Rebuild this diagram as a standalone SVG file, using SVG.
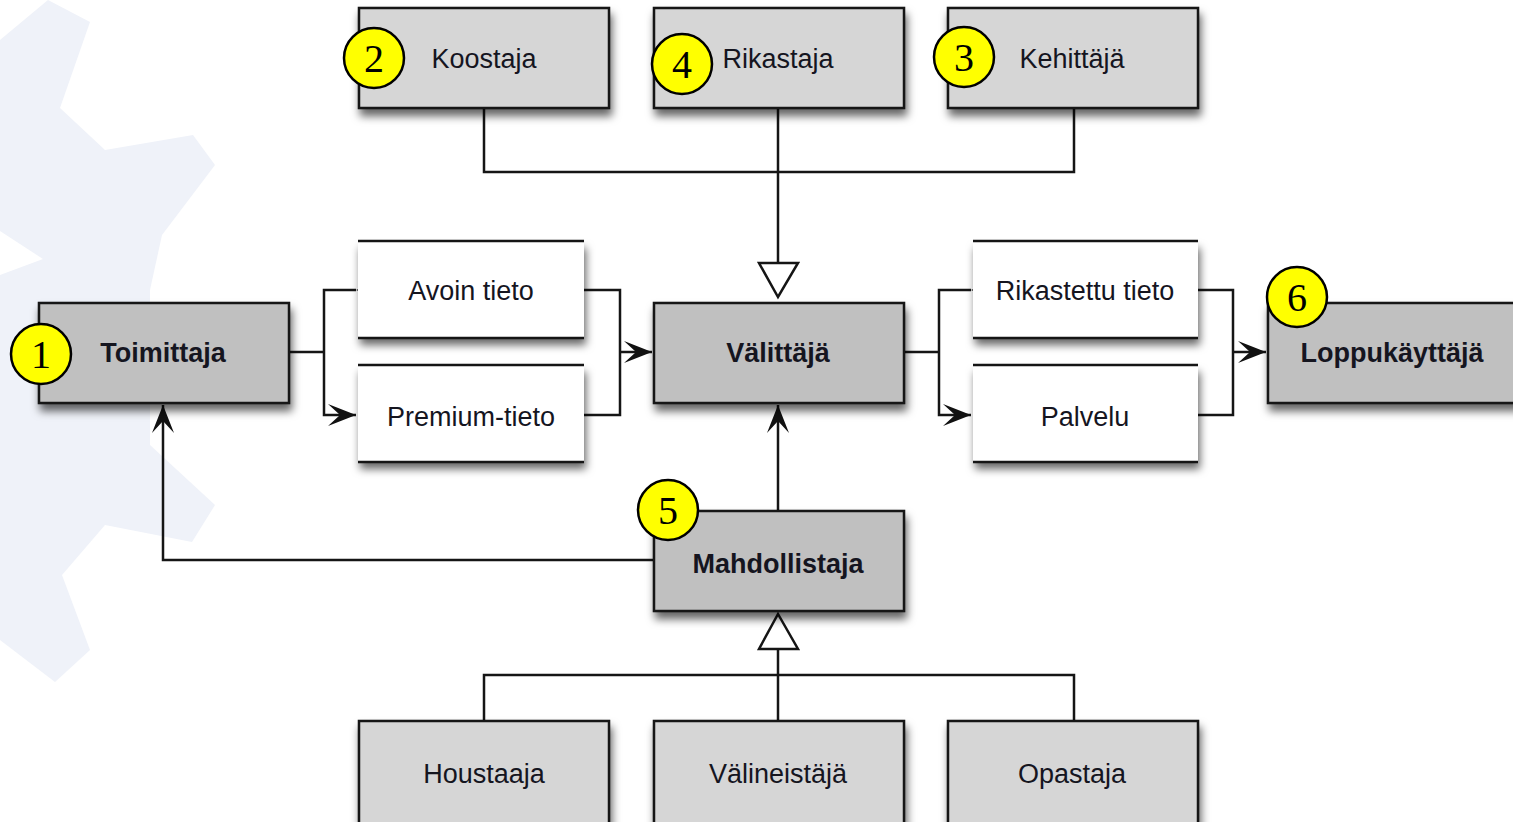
<svg xmlns="http://www.w3.org/2000/svg" width="1513" height="822" viewBox="0 0 1513 822">
<style>
.box{stroke:#151515;stroke-width:2.5}
.light{fill:#d6d6d6}
.dark{fill:#c0c0c0}
.wbox{fill:#fff}
.edge{stroke:#151515;stroke-width:2.5}
.lbl{font-family:"Liberation Sans",Arial,sans-serif;font-size:27px;fill:#15151f;text-anchor:middle}
.bold{font-weight:bold}
.badge circle{fill:#ffff00;stroke:#000;stroke-width:2.5}
.badge text{font-family:"Liberation Serif","Times New Roman",serif;font-size:40px;fill:#000;text-anchor:middle}
.con{fill:none;stroke:#151515;stroke-width:2.5}
.tri{fill:#fff;stroke:#151515;stroke-width:2.5}
</style>
<defs>
<filter id="sh" x="-10%" y="-10%" width="125%" height="140%">
<feDropShadow dx="2" dy="7" stdDeviation="4.5" flood-color="#000" flood-opacity="0.6"/>
</filter>
<marker id="arr" viewBox="-30 -13 32 26" refX="0" refY="0" markerWidth="32" markerHeight="26" markerUnits="userSpaceOnUse" orient="auto">
<path d="M0,0 L-28,-11 L-16,0 L-28,11 Z" fill="#111"/>
</marker>
</defs>
<rect width="1513" height="822" fill="#fff"/>
<polygon fill="#eff2f9" points="0,40 48,0 90,22 60,108 105,150 193,135 215,165 162,235 150,290 150,445 215,505 192,542 105,525 62,575 90,650 55,682 0,640 0,275 43,259 0,231"/>

<g id="connectors">
<polyline class="con" points="484,108 484,172 1074,172 1074,108"/>
<line class="con" x1="778" y1="108" x2="778" y2="263"/>
<polygon class="tri" points="759,263 798,263 778,297"/>
<polyline class="con" points="289,352 324,352"/>
<polyline class="con" points="356,290 324,290 324,415 356,415" marker-start="url(#arr)" marker-end="url(#arr)"/>
<polyline class="con" points="584,290 620,290 620,415 584,415"/>
<line class="con" x1="620" y1="352" x2="652" y2="352" marker-end="url(#arr)"/>
<line class="con" x1="904" y1="352" x2="939" y2="352"/>
<polyline class="con" points="971,290 939,290 939,415 971,415" marker-start="url(#arr)" marker-end="url(#arr)"/>
<polyline class="con" points="1198,290 1233,290 1233,415 1198,415"/>
<line class="con" x1="1233" y1="352" x2="1266" y2="352" marker-end="url(#arr)"/>
<line class="con" x1="778" y1="511" x2="778" y2="405" marker-end="url(#arr)"/>
<polyline class="con" points="654,560 163,560 163,405" marker-end="url(#arr)"/>
<polyline class="con" points="484,721 484,675 1074,675 1074,721"/>
<line class="con" x1="778" y1="721" x2="778" y2="649"/>
<polygon class="tri" points="759,649 798,649 778,614"/>
</g>

<g id="koostaja"><rect class="box light" x="359" y="8" width="250" height="100" filter="url(#sh)"/><text class="lbl" x="484" y="68">Koostaja</text></g>
<g id="rikastaja"><rect class="box light" x="654" y="8" width="250" height="100" filter="url(#sh)"/><text class="lbl" x="778" y="68">Rikastaja</text></g>
<g id="kehittaja"><rect class="box light" x="948" y="8" width="250" height="100" filter="url(#sh)"/><text class="lbl" x="1072" y="68">Kehittäjä</text></g>

<g id="toimittaja"><rect class="box dark" x="39" y="303" width="250" height="100" filter="url(#sh)"/><text class="lbl bold" x="163" y="362">Toimittaja</text></g>
<g id="valittaja"><rect class="box dark" x="654" y="303" width="250" height="100" filter="url(#sh)"/><text class="lbl bold" x="778" y="362">Välittäjä</text></g>
<g id="loppukayttaja"><rect class="box dark" x="1268" y="303" width="252" height="100" filter="url(#sh)"/><text class="lbl bold" x="1392" y="362">Loppukäyttäjä</text></g>
<g id="mahdollistaja"><rect class="box dark" x="654" y="511" width="250" height="100" filter="url(#sh)"/><text class="lbl bold" x="778" y="573">Mahdollistaja</text></g>

<g id="avoin"><rect class="wbox" x="358" y="241" width="226" height="97" filter="url(#sh)"/><line class="edge" x1="358" y1="241" x2="584" y2="241"/><line class="edge" x1="358" y1="338" x2="584" y2="338"/><text class="lbl" x="471" y="300">Avoin tieto</text></g>
<g id="premium"><rect class="wbox" x="358" y="365" width="226" height="97" filter="url(#sh)"/><line class="edge" x1="358" y1="365" x2="584" y2="365"/><line class="edge" x1="358" y1="462" x2="584" y2="462"/><text class="lbl" x="471" y="426">Premium-tieto</text></g>
<g id="rikastettu"><rect class="wbox" x="973" y="241" width="225" height="97" filter="url(#sh)"/><line class="edge" x1="973" y1="241" x2="1198" y2="241"/><line class="edge" x1="973" y1="338" x2="1198" y2="338"/><text class="lbl" x="1085" y="300">Rikastettu tieto</text></g>
<g id="palvelu"><rect class="wbox" x="973" y="365" width="225" height="97" filter="url(#sh)"/><line class="edge" x1="973" y1="365" x2="1198" y2="365"/><line class="edge" x1="973" y1="462" x2="1198" y2="462"/><text class="lbl" x="1085" y="426">Palvelu</text></g>

<g id="houstaaja"><rect class="box light" x="359" y="721" width="250" height="110" filter="url(#sh)"/><text class="lbl" x="484" y="783">Houstaaja</text></g>
<g id="valineistaja"><rect class="box light" x="654" y="721" width="250" height="110" filter="url(#sh)"/><text class="lbl" x="778" y="783">Välineistäjä</text></g>
<g id="opastaja"><rect class="box light" x="948" y="721" width="250" height="110" filter="url(#sh)"/><text class="lbl" x="1072" y="783">Opastaja</text></g>

<g id="badges">
<g class="badge" id="b1"><circle cx="41" cy="354" r="30"/><text x="41" y="368">1</text></g>
<g class="badge" id="b2"><circle cx="374" cy="58" r="30"/><text x="374" y="72">2</text></g>
<g class="badge" id="b4"><circle cx="682" cy="64" r="30"/><text x="682" y="78">4</text></g>
<g class="badge" id="b3"><circle cx="964" cy="57" r="30"/><text x="964" y="71">3</text></g>
<g class="badge" id="b6"><circle cx="1297" cy="297" r="30"/><text x="1297" y="311">6</text></g>
<g class="badge" id="b5"><circle cx="668" cy="510" r="30"/><text x="668" y="524">5</text></g>
</g>
</svg>
